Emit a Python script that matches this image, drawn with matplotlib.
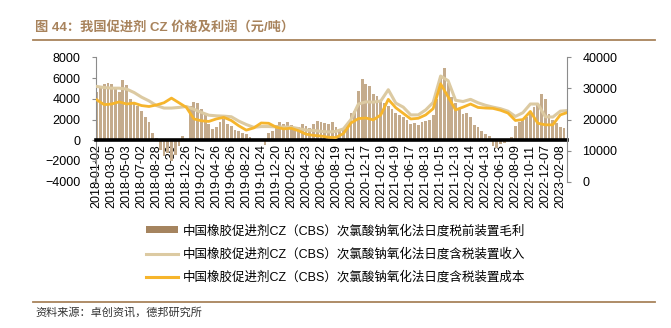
import numpy as np
import matplotlib.pyplot as plt
from matplotlib.patches import Patch
from matplotlib.lines import Line2D

plt.rcParams['font.family'] = ['Liberation Sans', 'Noto Sans CJK SC']

# x tick labels, one every 40 trading days
tick_labels = ['2018-01-02', '2018-03-05', '2018-05-03', '2018-07-02', '2018-08-28',
               '2018-10-30', '2018-12-26', '2019-02-27', '2019-04-26', '2019-06-26',
               '2019-08-22', '2019-10-24', '2019-12-20', '2020-02-25', '2020-04-23',
               '2020-06-22', '2020-08-19', '2020-10-21', '2020-12-17', '2021-02-19',
               '2021-04-19', '2021-06-17', '2021-08-13', '2021-10-15', '2021-12-13',
               '2022-02-14', '2022-04-13', '2022-06-13', '2022-08-09', '2022-10-11',
               '2022-12-07', '2023-02-08']
tick_step = 40

# gross profit before tax (yuan/t), one value every 10 trading days
profit_step = 10
profit = [4700, 5200, 5400, 5500, 5400, 5000, 4700, 5800, 5300, 4000,
          3600, 3300, 2800, 2200, 1800, 700, 200, -900, -1500, -1200,
          -2000, -1400, -600, 400, 100, 3300, 3700, 3600, 3000, 2400,
          1600, 1100, 1300, 1800, 2100, 1600, 1400, 1000, 900, 700,
          600, 300, 0, 0, 100, -500, 700, 900, 1500, 1800,
          1600, 1800, 1500, 1200, 1300, 1600, 1400, 1200, 1600, 1900,
          1800, 1700, 1600, 1800, 1300, 1000, 1100, 1500, 2600, 2800,
          4800, 5900, 5400, 5200, 4500, 4300, 3800, 3600, 3300, 3000,
          2600, 2400, 2200, 2000, 1600, 1700, 1500, 1800, 1900, 2000,
          2400, 4000, 6000, 7000, 5500, 4200, 3600, 3100, 2500, 2600,
          2200, 1500, 1300, 900, 600, 400, -600, -700, -400, -300,
          -100, 300, 1400, 1800, 2000, 2200, 2600, 3200, 3500, 4500,
          4000, 2500, 2000, 1700, 1300, 1200]

# income and cost incl. tax (yuan/t), one value every 20 trading days
line_step = 20
income = [30650, 30300, 30100, 30100, 29800, 28700, 27200, 26000, 24500, 23700,
          23700, 23900, 24200, 23300, 22300, 21400, 21200, 21100, 20900, 19500,
          18400, 17500, 17750, 17750, 17650, 17600, 17550, 17100, 16600, 16500,
          16200, 16000, 16200, 17000, 20000, 25000, 25700, 25600, 26000, 29600,
          25300, 24000, 21500, 21500, 23100, 25500, 34000, 32500, 26200, 25800,
          26500, 25400, 24600, 24000, 23500, 22700, 21000, 22200, 25000, 25000,
          20900, 20800, 22700, 22900]
cost = [26350, 24800, 25000, 25700, 25000, 25300, 24500, 24200, 24700, 25400,
        26900, 25400, 23900, 20200, 19600, 19400, 20200, 20700, 19700, 18000,
        16600, 17300, 18900, 18800, 17550, 17000, 17200, 16400, 15300, 14900,
        14700, 14300, 14200, 15500, 18900, 20300, 20500, 19900, 21500, 26500,
        23800, 22000, 20200, 20400, 21500, 23500, 31500, 27300, 23100, 24000,
        25000, 23900, 23700, 23600, 23000, 22100, 19700, 20000, 22600, 18800,
        18300, 18300, 21500, 22300]

name_profit = '中国橡胶促进剂CZ（CBS）次氯酸钠氧化法日度税前装置毛利'
name_income = '中国橡胶促进剂CZ（CBS）次氯酸钠氧化法日度含税装置收入'
name_cost = '中国橡胶促进剂CZ（CBS）次氯酸钠氧化法日度含税装置成本'

c_bar = '#c4ab8c'
c_income = '#dccaa2'
c_cost = '#f6b52c'
c_brown = '#a8835c'
c_grey = '#8c8c8c'

fig = plt.figure(figsize=(6.71, 3.28), dpi=100)
ax = fig.add_axes([0.143, 0.446, 0.702, 0.379])
ax2 = ax.twinx()

# x axis sits on the zero line, drawn as a heavy black bar
# (set before the ticks: moving the spine resets them)
ax.spines['bottom'].set_position(('data', 0))
ax.spines['bottom'].set_linewidth(2.6)
ax.spines['bottom'].set_color('black')
ax.spines['bottom'].set_zorder(3)

x_profit = np.arange(len(profit)) * profit_step
ax.bar(x_profit, profit, width=profit_step * 0.75, color=c_bar, linewidth=0, zorder=2)

x_line = np.arange(len(income)) * line_step
ax2.plot(x_line, income, color=c_income, lw=2.2, solid_joinstyle='round')
ax2.plot(x_line, cost, color=c_cost, lw=2.0, solid_joinstyle='round')

ax.set_xlim(-2, 1258)
ax.set_ylim(-4000, 8000)
ax.set_yticks(np.arange(-4000, 8001, 2000))
ax2.set_ylim(0, 40000)
ax2.set_yticks(np.arange(0, 40001, 10000))

ax.set_xticks(np.arange(len(tick_labels)) * tick_step)
ax.set_xticklabels(tick_labels, rotation=90, fontsize=9)
ax.tick_params(axis='x', length=0, pad=3)

for a in (ax, ax2):
    a.spines['top'].set_visible(False)
ax.spines['right'].set_visible(False)
ax2.spines['bottom'].set_visible(False)
ax2.spines['left'].set_visible(False)
ax.spines['left'].set_color(c_grey)
ax2.spines['right'].set_color(c_grey)
ax.tick_params(axis='y', length=3, color=c_grey, labelsize=9, pad=8)
ax2.tick_params(axis='y', length=3, color=c_grey, labelsize=9, pad=8)

handles = [Patch(facecolor='#a5845f', edgecolor='none'),
           Line2D([], [], color=c_income, lw=2.2),
           Line2D([], [], color=c_cost, lw=2.2)]
fig.legend(handles, [name_profit, name_income, name_cost], loc='center',
           bbox_to_anchor=(0.5, 0.225), frameon=False, fontsize=9,
           handlelength=2.6, handleheight=0.45, labelspacing=0.85,
           handletextpad=0.4)

# title with rule underneath
fig.text(35 / 671, 1 - 27 / 328, '图 44：我国促进剂 CZ 价格及利润（元/吨）',
         fontsize=9.5, fontweight='bold', color=c_brown, va='center', ha='left')
fig.add_artist(Line2D([33 / 671, 655 / 671], [1 - 39.5 / 328] * 2,
                      color=c_brown, lw=1.3))

# source note
fig.add_artist(Line2D([33 / 671, 655 / 671], [1 - 301.5 / 328] * 2,
                      color=c_brown, lw=1.3))
fig.text(35 / 671, 1 - 312.5 / 328, '资料来源：卓创资讯，德邦研究所',
         fontsize=8, color='#333333', va='center', ha='left')

fig.savefig('out.png', dpi=100)
